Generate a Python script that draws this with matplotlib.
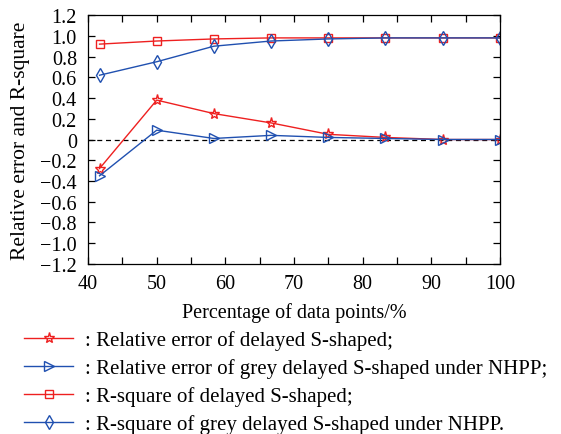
import numpy as np
import matplotlib.pyplot as plt
from matplotlib.ticker import MultipleLocator

plt.rcParams['font.family'] = 'Liberation Serif'

# data
pct = [41.67, 50, 58.33, 66.67, 75, 83.33, 91.67, 100]
err_ds = [-0.28, 0.38, 0.25, 0.16, 0.05, 0.02, 0.0, 0.0]
err_grey = [-0.35, 0.09, 0.01, 0.04, 0.02, 0.01, 0.0, 0.0]
r2_ds = [0.92, 0.95, 0.97, 0.98, 0.98, 0.98, 0.98, 0.98]
r2_grey = [0.62, 0.75, 0.90, 0.95, 0.97, 0.98, 0.98, 0.98]

labels = [': Relative error of delayed S-shaped;',
          ': Relative error of grey delayed S-shaped under NHPP;',
          ': R-square of delayed S-shaped;',
          ': R-square of grey delayed S-shaped under NHPP.']

red = '#ee2020'
blue = '#2050b0'

fig = plt.figure(figsize=(5.61, 4.35), dpi=100)
ax = fig.add_axes([0.157, 0.391, 0.734, 0.572])

ax.axhline(0, color='black', linestyle=(0, (4, 3)), linewidth=0.9, zorder=1)

kw = dict(linewidth=1.0, markerfacecolor='none', markeredgewidth=1.0)
h1, = ax.plot(pct, err_ds, color=red, marker='*', markersize=8, **kw)
h2, = ax.plot(pct, err_grey, color=blue, marker='>', markersize=7.5, **kw)
h3, = ax.plot(pct, r2_ds, color=red, marker='s', markersize=6, **kw)
h4, = ax.plot(pct, r2_grey, color=blue, marker='d', markersize=7, **kw)

ax.set_xlim(40, 100)
ax.set_ylim(-1.2, 1.2)
ax.xaxis.set_major_locator(MultipleLocator(10))
ax.xaxis.set_minor_locator(MultipleLocator(5))
yt = np.round(np.arange(-1.2, 1.21, 0.2), 1)
ax.set_yticks(yt)
ax.set_yticklabels(['0' if v == 0 else f'{v:.1f}'.replace('-', '\u2212') for v in yt])
ax.tick_params(which='both', direction='in', top=True, right=True, labelsize=14.5, width=0.9, length=5)
ax.tick_params(axis='x', pad=7)
ax.tick_params(axis='y', pad=8)
for s in ax.spines.values():
    s.set_linewidth(0.9)

ax.set_xlabel('Percentage of data points/%', fontsize=14.5, labelpad=7)
ax.set_ylabel('Relative error and R-square', fontsize=15.5, labelpad=7)

fig.legend([h1, h2, h3, h4], labels, loc='upper left', bbox_to_anchor=(0.043, 0.2385),
           frameon=False, fontsize=15, handlelength=2.35, handletextpad=0.58,
           labelspacing=0.39, borderpad=0, borderaxespad=0, markerscale=1.0)

fig.savefig('out.png', dpi=100)
